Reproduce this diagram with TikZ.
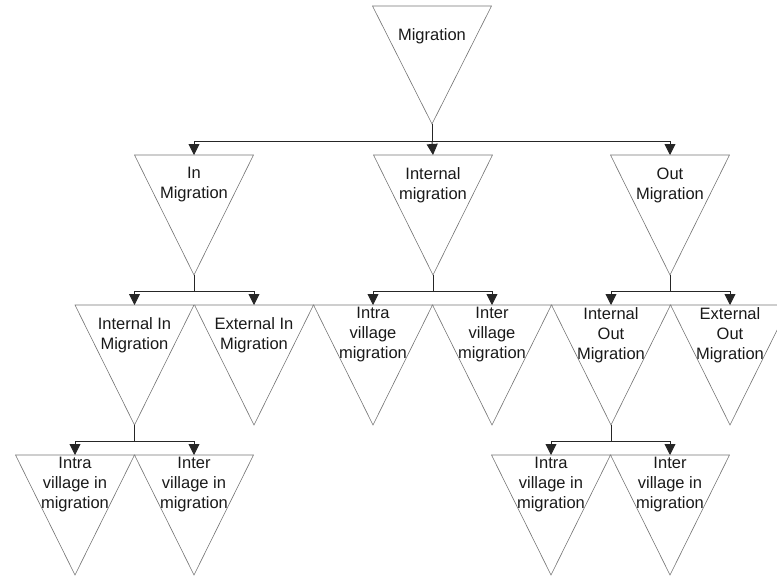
\documentclass[tikz,border=0pt]{standalone}
\usepackage{fontspec}
\setmainfont{Liberation Sans}
\usetikzlibrary{arrows.meta}
\tikzset{
  tri/.style={draw=black!55, line width=0.6pt, line join=miter},
  lbl/.style={align=center, inner sep=0pt, font=\fontsize{16.5}{20}\selectfont, text=black!90},
  conn/.style={draw=black!85, line width=0.9pt},
  arr/.style={conn, -{Triangle[length=11pt,width=11pt]}},
}
\newcommand{\mytri}[5]{%
  \coordinate (#1-t) at (#2,#3);
  \coordinate (#1-a) at (#2,#3+#4);
  \draw[tri] (#2-59.5,#3) -- (#2+59.5,#3) -- (#1-a) -- cycle;
  \node[lbl] (#1) at (#2,#3+30) {#5};
}
\begin{document}
\begin{tikzpicture}[x=1pt,y=-1pt]
\useasboundingbox (0,0) rectangle (777,576);
\clip (0,0) rectangle (777,576);
% level 0
\mytri{m}{432}{6}{118}{Migration}
% level 1
\mytri{in}{194}{155}{120}{In\\Migration}
\mytri{im}{433}{155}{120}{Internal\\migration}
\mytri{out}{670}{155}{120}{Out\\Migration}
% level 2
\mytri{iin}{134.5}{305}{120}{Internal In\\Migration}
\mytri{ein}{254}{305}{120}{External In\\Migration}
\mytri{iv}{373}{305}{120}{Intra\\village\\migration}
\mytri{ev}{492}{305}{120}{Inter\\village\\migration}
\mytri{iout}{611}{305}{120}{Internal\\Out\\Migration}
\mytri{eout}{730}{305}{120}{External\\Out\\Migration}
% level 3
\mytri{ivl}{75}{455}{120}{Intra\\village in\\migration}
\mytri{evl}{194}{455}{120}{Inter\\village in\\migration}
\mytri{ivr}{551}{455}{120}{Intra\\village in\\migration}
\mytri{evr}{670}{455}{120}{Inter\\village in\\migration}
% buses
\coordinate (b0) at (432,141);
\coordinate (b1) at (194,291);
\coordinate (b2) at (433,291);
\coordinate (b3) at (670,291);
\coordinate (b4) at (134.5,441);
\coordinate (b5) at (611,441);
% connectors
\draw[conn] (m-a) -- (b0);
\draw[arr] (b0) -| (in-t);
\draw[arr] (b0) -- (im-t);
\draw[arr] (b0) -| (out-t);
\draw[conn] (in-a) -- (b1);
\draw[arr] (b1) -| (iin-t);
\draw[arr] (b1) -| (ein-t);
\draw[conn] (im-a) -- (b2);
\draw[arr] (b2) -| (iv-t);
\draw[arr] (b2) -| (ev-t);
\draw[conn] (out-a) -- (b3);
\draw[arr] (b3) -| (iout-t);
\draw[arr] (b3) -| (eout-t);
\draw[conn] (iin-a) -- (b4);
\draw[arr] (b4) -| (ivl-t);
\draw[arr] (b4) -| (evl-t);
\draw[conn] (iout-a) -- (b5);
\draw[arr] (b5) -| (ivr-t);
\draw[arr] (b5) -| (evr-t);
\end{tikzpicture}
\end{document}
